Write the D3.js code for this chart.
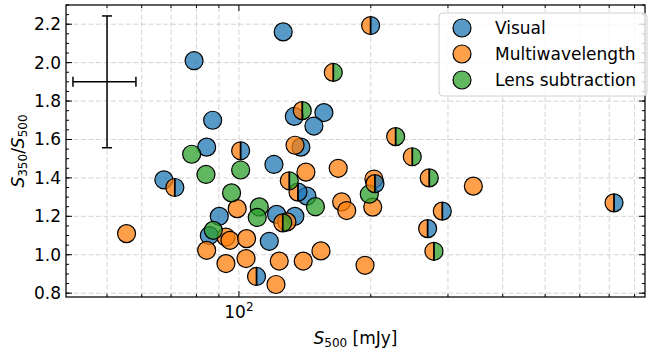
<!DOCTYPE html>
<html>
<head>
<meta charset="utf-8">
<script src="https://cdn.jsdelivr.net/npm/d3@7"></script>
<style>
    body { margin: 0; background: #fff; }
    svg text { font-family: "DejaVu Sans", sans-serif; fill: #000; }
    .grid { stroke: #d4d4d4; stroke-width: 1; stroke-dasharray: 5,2.5; }
</style>
</head>
<body>
<div id="chart"></div>
<script>
// S500 [mJy], S350/S500
var visual = [
    [79.0, 2.01], [126.2, 2.16], [87.1, 1.70], [84.4, 1.56], [67.4, 1.39],
    [90.2, 1.20], [85.6, 1.10], [117.3, 1.07], [120.2, 1.47], [133.8, 1.72],
    [156.3, 1.74], [148.3, 1.67], [138.5, 1.56], [143.0, 1.305], [121.9, 1.21],
    [134.2, 1.20]
];
var multi = [
    [134.3, 1.57], [142.2, 1.43], [168.5, 1.45], [171.6, 1.275], [176.2, 1.23],
    [123.6, 0.967], [140.2, 0.967], [153.9, 1.02], [121.5, 0.845], [194.0, 0.945],
    [203.3, 1.394], [202.0, 1.248], [342.8, 1.357], [55.4, 1.11], [99.1, 1.24],
    [84.4, 1.023], [93.4, 1.092], [95.4, 1.075], [104.1, 1.084], [93.4, 0.954],
    [103.8, 0.98], [128.7, 1.171]
];
var lens = [
    [87.4, 1.127], [149.5, 1.25], [111.3, 1.249], [110.1, 1.194], [198.4, 1.315],
    [78.0, 1.523], [84.1, 1.418], [100.9, 1.441], [96.2, 1.322]
];
// sources found by both multiwavelength (left half) and another method (right half)
var multiVisual = [
    [109.7, 0.887], [136.4, 1.326], [204.4, 1.37], [291.2, 1.227], [269.6, 1.136],
    [199.8, 2.193], [718, 1.27], [71.4, 1.35], [100.9, 1.541]
];
var multiLens = [
    [139.5, 1.75], [130.3, 1.385], [125.9, 1.166], [248.7, 1.51], [271.9, 1.40],
    [278.7, 1.018], [164.2, 1.949], [227.9, 1.615]
];
var legendLabels = ["Visual", "Multiwavelength", "Lens subtraction"];
var yTicks = [0.8, 1.0, 1.2, 1.4, 1.6, 1.8, 2.0, 2.2];
var xTicks = [50, 60, 70, 80, 90, 100, 200, 300, 400, 500, 600, 700, 800];
var typicalErr = {x: 50, y: 1.9, xerr: 8.2, yerr: 0.343};

var colors = {blue: "#1f77b4", orange: "#ff7f0e", green: "#2ca02c"};
var alpha = 0.75;

var width = 654, height = 355;
var m = {left: 66, right: 9, top: 5, bottom: 58};
var r = 9;

var svg = d3.select("#chart").append("svg")
    .attr("width", width)
    .attr("height", height);

var x = d3.scaleLog()
    .domain([40.3, 845])
    .range([m.left, width - m.right]);
var y = d3.scaleLinear()
    .domain([0.78, 2.30])
    .range([height - m.bottom, m.top]);

var x0 = m.left, x1 = width - m.right, y0 = height - m.bottom, y1 = m.top;

// grid
svg.append("g").selectAll("line")
    .data(xTicks)
    .enter().append("line").attr("class", "grid")
        .attr("x1", function(d) { return x(d); })
        .attr("x2", function(d) { return x(d); })
        .attr("y1", y0).attr("y2", y1);
svg.append("g").selectAll("line")
    .data(yTicks)
    .enter().append("line").attr("class", "grid")
        .attr("x1", x0).attr("x2", x1)
        .attr("y1", function(d) { return y(d); })
        .attr("y2", function(d) { return y(d); });

// typical error bar
var eb = svg.append("g").attr("stroke", "#000").attr("stroke-width", 1.5);
eb.append("line")
    .attr("x1", x(typicalErr.x)).attr("x2", x(typicalErr.x))
    .attr("y1", y(typicalErr.y - typicalErr.yerr)).attr("y2", y(typicalErr.y + typicalErr.yerr));
eb.append("line")
    .attr("x1", x(typicalErr.x - typicalErr.xerr)).attr("x2", x(typicalErr.x + typicalErr.xerr))
    .attr("y1", y(typicalErr.y)).attr("y2", y(typicalErr.y));
[typicalErr.y - typicalErr.yerr, typicalErr.y + typicalErr.yerr].forEach(function(v) {
    eb.append("line")
        .attr("x1", x(typicalErr.x) - 5).attr("x2", x(typicalErr.x) + 5)
        .attr("y1", y(v)).attr("y2", y(v));
});
[typicalErr.x - typicalErr.xerr, typicalErr.x + typicalErr.xerr].forEach(function(v) {
    eb.append("line")
        .attr("x1", x(v)).attr("x2", x(v))
        .attr("y1", y(typicalErr.y) - 5).attr("y2", y(typicalErr.y) + 5);
});

// points
function drawFull (data, color) {
    svg.append("g").selectAll("circle")
        .data(data)
        .enter().append("circle")
            .attr("cx", function(d) { return x(d[0]); })
            .attr("cy", function(d) { return y(d[1]); })
            .attr("r", r)
            .attr("fill", color)
            .attr("fill-opacity", alpha)
            .attr("stroke", "#000")
            .attr("stroke-width", 1.2);
}
function halfPath (cx, cy, sweep) {
    return "M" + cx + "," + (cy - r) + "A" + r + "," + r + " 0 0 " + sweep + " " + cx + "," + (cy + r) + "Z";
}
function drawSplit (data, rightColor) {
    var g = svg.append("g").selectAll("g")
        .data(data)
        .enter().append("g");
    g.append("path")
        .attr("d", function(d) { return halfPath(x(d[0]), y(d[1]), 0); })
        .attr("fill", colors.orange).attr("fill-opacity", alpha);
    g.append("path")
        .attr("d", function(d) { return halfPath(x(d[0]), y(d[1]), 1); })
        .attr("fill", rightColor).attr("fill-opacity", alpha);
    g.append("circle")
        .attr("cx", function(d) { return x(d[0]); })
        .attr("cy", function(d) { return y(d[1]); })
        .attr("r", r)
        .attr("fill", "none")
        .attr("stroke", "#000").attr("stroke-width", 1.2);
    g.append("line")
        .attr("x1", function(d) { return x(d[0]); })
        .attr("x2", function(d) { return x(d[0]); })
        .attr("y1", function(d) { return y(d[1]) - r; })
        .attr("y2", function(d) { return y(d[1]) + r; })
        .attr("stroke", "#000").attr("stroke-width", 1.8);
}
drawFull(visual, colors.blue);
drawFull(multi, colors.orange);
drawFull(lens, colors.green);
drawSplit(multiVisual, colors.blue);
drawSplit(multiLens, colors.green);

// axes: ticks inside on all four sides
var xMinor = d3.range(40, 100, 10).concat(d3.range(200, 900, 100));
var yMinor = d3.range(0.8, 2.31, 0.05);
var ax = svg.append("g").attr("stroke", "#000").attr("stroke-width", 1);
function ticksX (vals, len) {
    vals.forEach(function(v) {
        if (x(v) < x0 || x(v) > x1) return;
        ax.append("line").attr("x1", x(v)).attr("x2", x(v)).attr("y1", y0).attr("y2", y0 - len);
        ax.append("line").attr("x1", x(v)).attr("x2", x(v)).attr("y1", y1).attr("y2", y1 + len);
    });
}
function ticksY (vals, len) {
    vals.forEach(function(v) {
        if (y(v) > y0 || y(v) < y1) return;
        ax.append("line").attr("x1", x0).attr("x2", x0 + len).attr("y1", y(v)).attr("y2", y(v));
        ax.append("line").attr("x1", x1).attr("x2", x1 - len).attr("y1", y(v)).attr("y2", y(v));
    });
}
ticksX(xMinor, 3);
ticksX([100], 6);
ticksY(yMinor, 3);
ticksY(yTicks, 6);

svg.append("rect")
    .attr("x", x0).attr("y", y1)
    .attr("width", x1 - x0).attr("height", y0 - y1)
    .attr("fill", "none").attr("stroke", "#000").attr("stroke-width", 1.25);

svg.append("g").selectAll("text")
    .data(yTicks)
    .enter().append("text")
        .attr("x", x0 - 5)
        .attr("y", function(d) { return y(d); })
        .attr("dy", "0.35em")
        .attr("text-anchor", "end")
        .attr("font-size", "17px")
        .text(function(d) { return d.toFixed(1); });

var xt = svg.append("text")
    .attr("x", x(100)).attr("y", y0 + 21)
    .attr("text-anchor", "middle")
    .attr("font-size", "17px");
xt.append("tspan").text("10");
xt.append("tspan").attr("dy", "-7").attr("font-size", "12px").text("2");

// axis titles
var xl = svg.append("text")
    .attr("x", (x0 + x1) / 2).attr("y", y0 + 47)
    .attr("text-anchor", "middle")
    .attr("font-size", "17px");
xl.append("tspan").attr("font-style", "italic").text("S");
xl.append("tspan").attr("dy", "3").attr("font-size", "12px").text("500");
xl.append("tspan").attr("dy", "-3").text(" [mJy]");

var yl = svg.append("text")
    .attr("transform", "translate(24," + ((y0 + y1) / 2) + ") rotate(-90)")
    .attr("text-anchor", "middle")
    .attr("font-size", "17px");
yl.append("tspan").attr("font-style", "italic").text("S");
yl.append("tspan").attr("dy", "3").attr("font-size", "12px").text("350");
yl.append("tspan").attr("dy", "-3").text("/");
yl.append("tspan").attr("font-style", "italic").text("S");
yl.append("tspan").attr("dy", "3").attr("font-size", "12px").text("500");

// legend
var lg = svg.append("g");
lg.append("rect")
    .attr("x", 439).attr("y", 13)
    .attr("width", 208).attr("height", 83)
    .attr("rx", 4)
    .attr("fill", "#fff").attr("fill-opacity", 0.8)
    .attr("stroke", "#d0d0d0").attr("stroke-width", 1);
var lcol = [colors.blue, colors.orange, colors.green];
legendLabels.forEach(function(t, i) {
    var cy = 28 + i * 26;
    lg.append("circle")
        .attr("cx", 462).attr("cy", cy).attr("r", r)
        .attr("fill", lcol[i]).attr("fill-opacity", alpha)
        .attr("stroke", "#000").attr("stroke-width", 1.2);
    lg.append("text")
        .attr("x", 495).attr("y", cy)
        .attr("dy", "0.35em")
        .attr("font-size", "17px")
        .text(t);
});
</script>
</body>
</html>
